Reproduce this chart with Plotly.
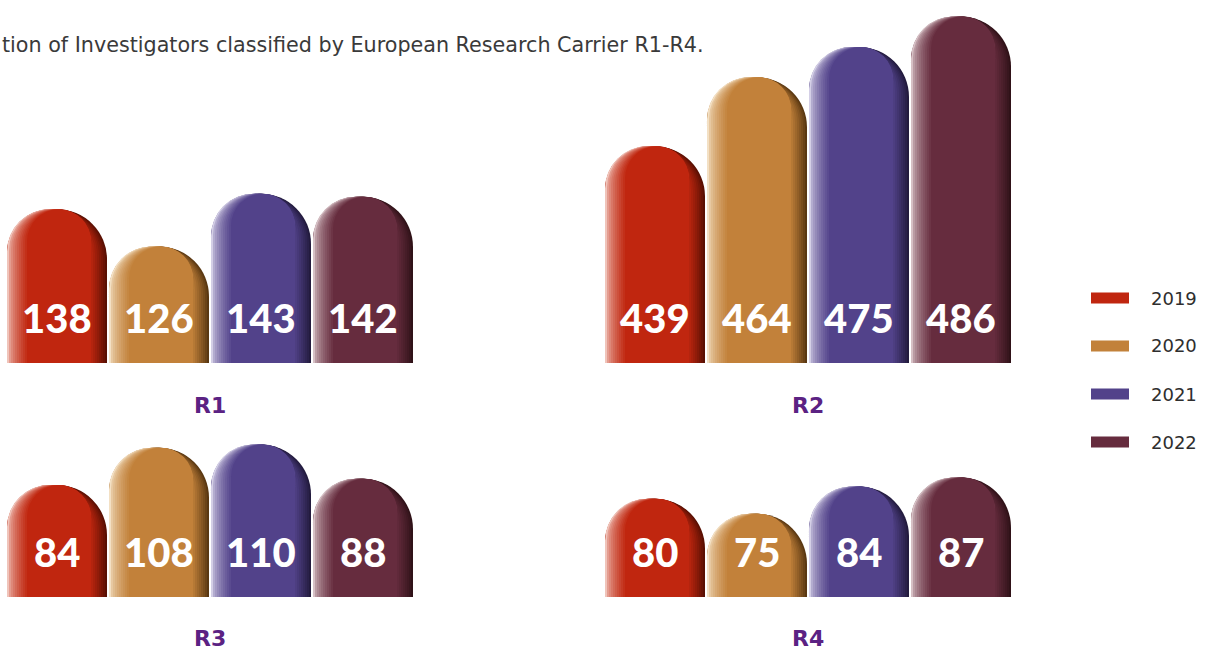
import plotly.graph_objects as go

# ---------------- data ----------------
years = ["2019", "2020", "2021", "2022"]
groups = ["R1", "R2", "R3", "R4"]
r1_values = [138, 126, 143, 142]
r2_values = [439, 464, 475, 486]
r3_values = [84, 108, 110, 88]
r4_values = [80, 75, 84, 87]
title_text = "tion of Investigators classified by European Research Carrier R1-R4."

# ---------------- style ----------------
W, H = 1207, 655
base_cols = ["#c0260f", "#c2813a", "#52428a", "#662c3e"]
light_cols = ["#f0c4ba", "#f3e0c4", "#d4cfe6", "#d6c0c5"]
dark_cols = ["#5a1003", "#5a3812", "#231b3e", "#301218"]
NUM_FONT = "Lato, 'Open Sans', sans-serif"
TXT_FONT = "'DejaVu Sans', sans-serif"


def hex2rgb(h):
    h = h.lstrip("#")
    return [int(h[i:i + 2], 16) for i in (0, 2, 4)]


def mix(c1, c2, t):
    a, b = hex2rgb(c1), hex2rgb(c2)
    return "rgb(%d,%d,%d)" % tuple(round(a[i] + (b[i] - a[i]) * t) for i in range(3))


def px_x(a, b):
    return [a / W, b / W]


def px_y(bottom, top):
    return [1 - bottom / H, 1 - top / H]


# panel layout: (values, x-domain, y-domain, y-range, label y pixel)
panels = [
    (r1_values, px_x(6, 414), px_y(363, 0), [88.4, 205.5], 405),
    (r2_values, px_x(604, 1012), px_y(363, 0), [360.55, 492.0], 405),
    (r3_values, px_x(6, 414), px_y(597, 420), [12.0, 125.8], 638),
    (r4_values, px_x(604, 1012), px_y(597, 420), [47.6, 105.9], 638),
]

fig = go.Figure()
px_per_unit = 408 / 4.0
full_w = 100.0 / px_per_unit
s_u = 2.0 / px_per_unit
nR, nL = 8, 10
xs = list(range(len(years)))

annotations = []
layout_axes = {}
for p, (vals, xdom, ydom, yr, label_y) in enumerate(panels):
    n = "" if p == 0 else str(p + 1)
    xa, ya = "x" + n, "y" + n
    layout_axes["xaxis" + n] = dict(domain=xdom, range=[-0.5, 3.5], visible=False,
                                    anchor=ya, fixedrange=True)
    layout_axes["yaxis" + n] = dict(domain=ydom, range=yr, visible=False,
                                    anchor=xa, fixedrange=True)
    # dark right-edge layers
    for j in range(nR):
        t = j / nR
        fig.add_trace(go.Bar(
            x=xs, y=vals, xaxis=xa, yaxis=ya,
            width=full_w - j * s_u, offset=-full_w / 2,
            marker=dict(color=[mix(dark_cols[k], base_cols[k], t ** 0.9) for k in range(4)],
                        cornerradius="50%", line=dict(width=0)),
            showlegend=False, hoverinfo="skip"))
    # light left-edge layers, ending with the base colour
    for i in range(nL + 1):
        t = i / nL
        fig.add_trace(go.Bar(
            x=xs, y=vals, xaxis=xa, yaxis=ya,
            width=full_w - nR * s_u - i * s_u, offset=-full_w / 2 + i * s_u,
            marker=dict(color=[mix(light_cols[k], base_cols[k], t ** 0.6) for k in range(4)],
                        cornerradius="50%", line=dict(width=0)),
            showlegend=False, hoverinfo="skip"))
    # value labels
    for k, v in enumerate(vals):
        annotations.append(dict(
            x=k, y=0, xref=xa, yref=ya + " domain", yshift=45,
            text=str(v), showarrow=False, xanchor="center", yanchor="middle",
            font=dict(family=NUM_FONT, size=40, color="white", weight=900)))
    # group label
    annotations.append(dict(
        x=0.5, y=1 - label_y / H, xref=xa + " domain", yref="paper",
        text=groups[p], showarrow=False, xanchor="center", yanchor="middle",
        font=dict(family=TXT_FONT, size=22, color="#5b2283", weight="bold")))

# legend (custom swatches)
shapes = []
for k, yr_label in enumerate(years):
    cy = 298 + 48 * k
    shapes.append(dict(type="rect", xref="paper", yref="paper",
                       x0=1091 / W, x1=1129 / W,
                       y0=1 - (cy + 5.5) / H, y1=1 - (cy - 5.5) / H,
                       fillcolor=base_cols[k], line=dict(width=0)))
    annotations.append(dict(
        x=1149 / W, y=1 - cy / H, xref="paper", yref="paper",
        text=yr_label, showarrow=False, xanchor="left", yanchor="middle",
        font=dict(family=TXT_FONT, size=18, color="#2e2e2e")))

# title
annotations.append(dict(
    x=0, y=1 - 45 / H, xref="paper", yref="paper", text=title_text,
    showarrow=False, xanchor="left", yanchor="middle",
    font=dict(family=TXT_FONT, size=20.7, color="#3a3a3a")))

fig.update_layout(
    width=W, height=H, margin=dict(l=0, r=0, t=0, b=0),
    paper_bgcolor="white", plot_bgcolor="white",
    barmode="overlay", showlegend=False,
    annotations=annotations, shapes=shapes,
    **layout_axes)

fig.write_html("out.html", config={"displayModeBar": False},
               post_script="document.body.style.margin='0px';")
